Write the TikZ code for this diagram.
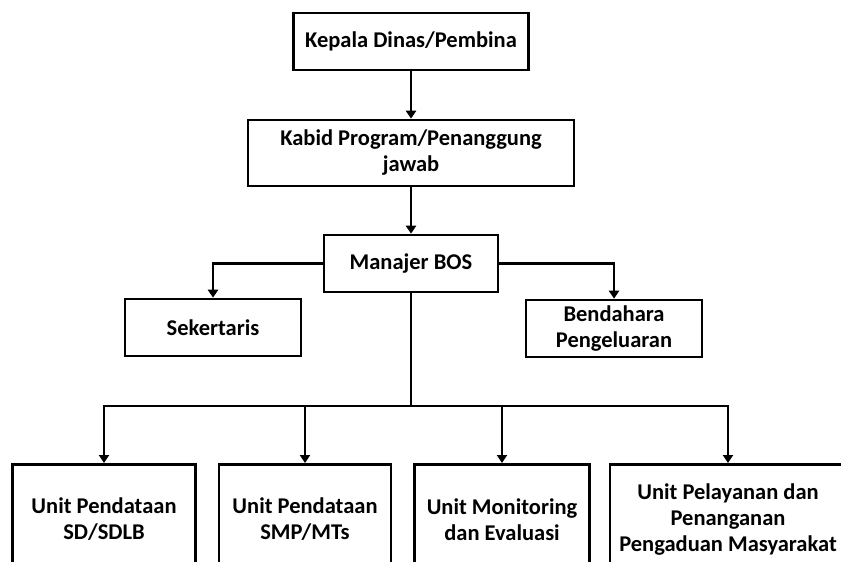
\documentclass[tikz,border=0pt]{standalone}
\usepackage{fontspec}
\setmainfont{Carlito}
\usetikzlibrary{arrows.meta}

\begin{document}
\begin{tikzpicture}[x=1pt, y=-1pt,
  kotak/.style={draw, line width=2.6pt, align=center, inner sep=0pt,
    font=\bfseries\fontsize{22.5}{26}\selectfont},
  unit/.style={kotak, anchor=north, minimum height=110pt},
  garis/.style={line width=2.2pt, -{Triangle[length=8pt,width=10pt]}}]
  \useasboundingbox (0,0) rectangle (841,562);
  \node[kotak, minimum width=235pt, minimum height=57pt] (kadis) at (411,41.5) {Kepala Dinas/Pembina};
  \node[kotak, minimum width=326pt, minimum height=66pt] (kabid) at (411,153) {Kabid Program/Penanggung\\jawab};
  \node[kotak, minimum width=174pt, minimum height=57pt] (manajer) at (411,263.5) {Manajer BOS};
  \node[kotak, minimum width=176pt, minimum height=57pt] (sekretaris) at (213,327.5) {Sekertaris};
  \node[kotak, minimum width=176pt, minimum height=57pt] (bendahara) at (614,328.5) {Bendahara\\Pengeluaran};
  \node[unit, minimum width=183pt] (sd) at (104,463) {Unit Pendataan\\SD/SDLB};
  \node[unit, minimum width=172pt] (smp) at (305,463) {Unit Pendataan\\SMP/MTs};
  \node[unit, minimum width=175pt] (monev) at (502,463) {Unit Monitoring\\dan Evaluasi};
  \node[unit, minimum width=236pt] (aduan) at (728,463) {Unit Pelayanan dan\\Penanganan\\Pengaduan Masyarakat};
  \coordinate (bus) at (411,406);

  \path[garis]
  (kadis) edge (kabid)
  (kabid) edge (manajer);
  \draw[garis] (manajer.west) -| (sekretaris.north);
  \draw[garis] (manajer.east) -| (bendahara.north);
  \draw[line width=2.2pt] (manajer.south) -- (bus);
  \draw[garis] (bus) -| (sd.north);
  \draw[garis] (bus) -| (smp.north);
  \draw[garis] (bus) -| (monev.north);
  \draw[garis] (bus) -| (aduan.north);
\end{tikzpicture}
\end{document}
